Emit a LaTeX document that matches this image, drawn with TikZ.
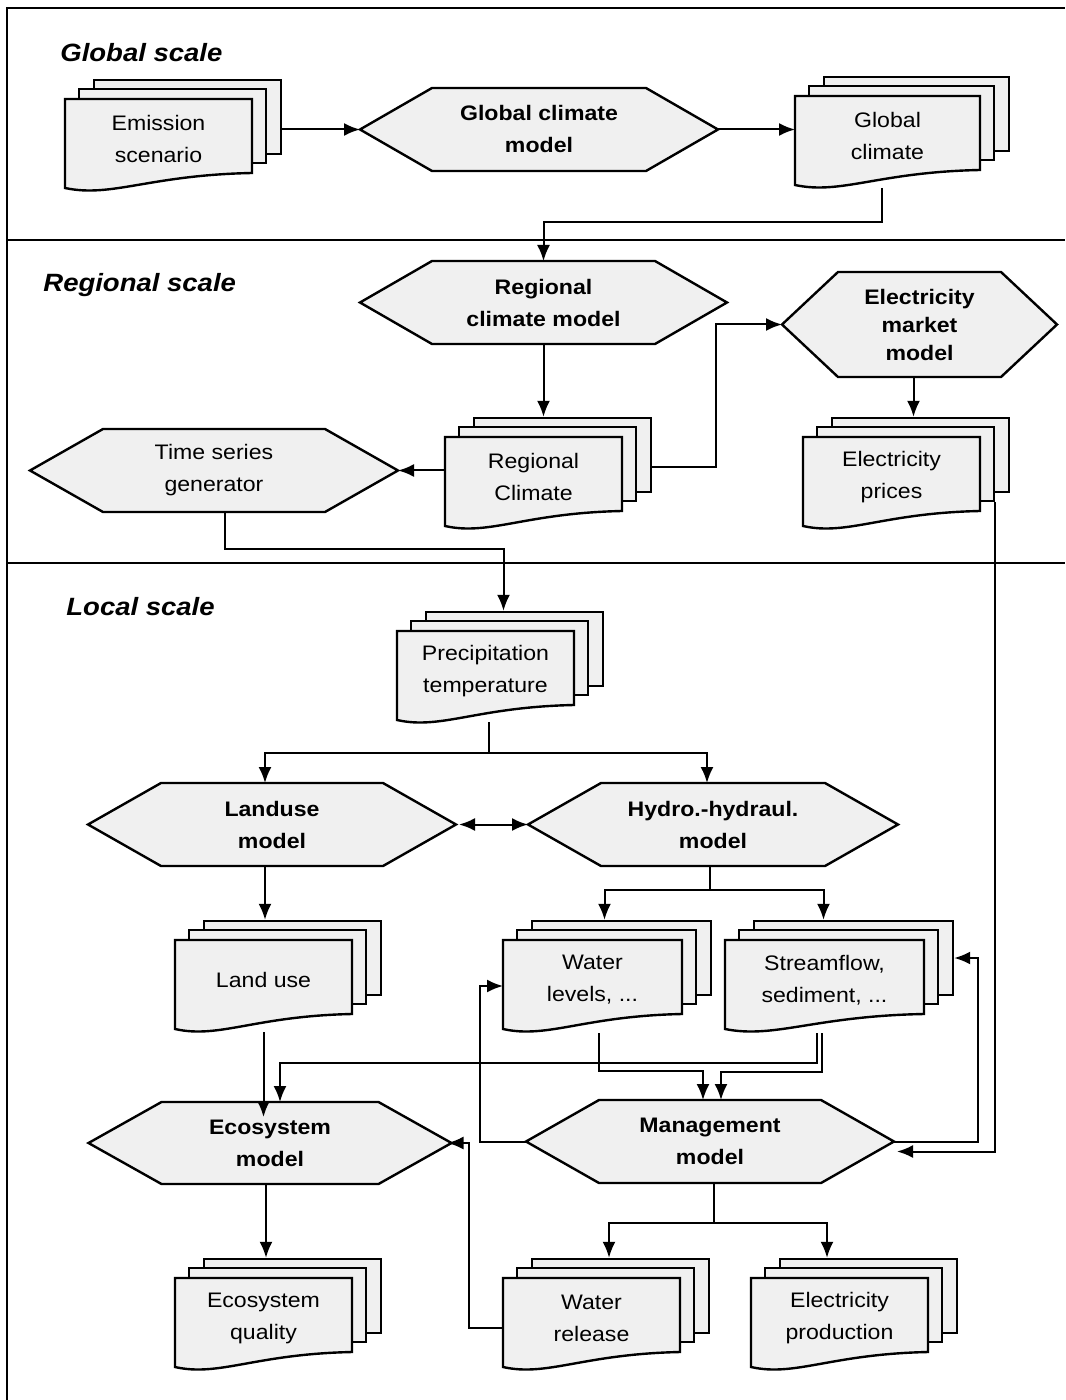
\documentclass[tikz,border=0pt]{standalone}
\usepackage{fontspec}
\setmainfont{Liberation Sans}[FakeStretch=1.1]
\usetikzlibrary{arrows.meta}
\definecolor{boxgray}{RGB}{240,240,240}

\begin{document}
\begin{tikzpicture}[x=0.5pt,y=-0.5pt]
    \tikzstyle{heading}=[anchor=west,inner sep=0pt,font=\fontsize{12.5}{14}\selectfont\bfseries\itshape]
    \tikzstyle{outline}=[draw=black,line width=1.2pt,fill=boxgray,line join=miter]
    \tikzstyle{sheet}=[outline,rectangle,inner sep=0pt,minimum height=37pt]
    \tikzstyle{doctext}=[inner sep=0pt,outer sep=0pt,align=center,minimum height=37pt,font=\fontsize{10.5}{16}\selectfont]
    \tikzstyle{hexplain}=[doctext]
    \tikzstyle{hexbold}=[doctext,font=\fontsize{10.5}{16}\selectfont\bfseries]

    % stack of documents: name, left, top, width, text
    \def\docstack#1#2#3#4#5{%
      \node[sheet,minimum width=#4*0.5pt] (#1-b) at ({#2+#4/2+29},{#3+18}) {};
      \node[sheet,minimum width=#4*0.5pt] (#1-m) at ({#2+#4/2+14},{#3+27}) {};
      \path[outline] (#2,#3) -- ++(#4,0) -- ++(0,74)
        .. controls ({#2+0.45*#4},{#3+76}) and ({#2+0.25*#4},{#3+99}) .. (#2,{#3+89}) -- cycle;
      \node[doctext,minimum width=#4*0.5pt] (#1) at ({#2+#4/2},{#3+40}) {#5};}
    % hexagon: name, x, y, width, height, inset, style, text
    \def\hexbox#1#2#3#4#5#6#7#8{%
      \path[outline] ({#2-#4/2},#3) -- ({#2-#4/2+#6},{#3-#5/2}) -- ({#2+#4/2-#6},{#3-#5/2})
        -- ({#2+#4/2},#3) -- ({#2+#4/2-#6},{#3+#5/2}) -- ({#2-#4/2+#6},{#3+#5/2}) -- cycle;
      \node[#7,minimum width=#4*0.5pt,minimum height=#5*0.5pt] (#1) at (#2,#3) {#8};}

    \useasboundingbox (0,0) rectangle (1065,1400);

    % frame and scales
    \draw[line width=1.2pt] (7,1400) -- (7,8) -- (1065,8);
    \draw[line width=1.2pt] (7,240) -- (1065,240);
    \draw[line width=1.2pt] (7,563) -- (1065,563);

    \node[heading] (global) at (60,53) {Global scale};
    \node[heading] (regional) at (43,285) {Regional scale};
    \node[heading] (local) at (66,607) {Local scale};

    \hexbox{gcm}{539}{129.5}{358}{83}{72}{hexbold}{Global climate\\model}
    \hexbox{rcm}{543.5}{302.5}{367}{83}{72}{hexbold}{Regional\\climate model}
    \hexbox{emm}{919.5}{324.5}{275}{105}{56}{hexbold}{Electricity\\[-2pt]market\\[-2pt]model}
    \hexbox{tsg}{214}{470.5}{368}{83}{73}{hexplain}{Time series\\generator}
    \hexbox{land}{272}{824.5}{368}{83}{73}{hexbold}{Landuse\\model}
    \hexbox{hydro}{713}{824.5}{370}{83}{73}{hexbold}{Hydro.-hydraul.\\model}
    \hexbox{eco}{270}{1143}{363}{82}{73}{hexbold}{Ecosystem\\model}
    \hexbox{mgmt}{710}{1141.5}{368}{83}{73}{hexbold}{Management\\model}

    \docstack{emis}{65}{99}{187}{Emission\\scenario}
    \docstack{gcl}{795}{96}{185}{Global\\climate}
    \docstack{rcl}{445}{437}{177}{Regional\\Climate}
    \docstack{price}{803}{437}{177}{Electricity\\prices}
    \docstack{precip}{397}{631}{177}{Precipitation\\temperature}
    \docstack{lu}{175}{940}{177}{Land use}
    \docstack{wlev}{503}{940}{179}{Water\\levels, ...}
    \docstack{sflow}{725}{940}{199}{Streamflow,\\sediment, ...}
    \docstack{eq}{175}{1278}{177}{Ecosystem\\quality}
    \docstack{wrel}{503}{1278}{177}{Water\\release}
    \docstack{eprod}{751}{1278}{177}{Electricity\\production}

    \tikzstyle{fwd}=[draw=black,line width=1pt,-{Latex[length=8pt,width=6.5pt]}]
    \tikzstyle{both}=[draw=black,line width=1pt,{Latex[length=8pt,width=6.5pt]}-{Latex[length=8pt,width=6.5pt]}]

    \draw[fwd] (emis-b.east |- gcm.west) -- (gcm.west);
    \draw[fwd] (gcm.east) -- (gcm.east -| gcl.west);
    \draw[fwd] ([xshift=-3pt,yshift=-7.5pt]gcl.south) -- ++(0,34) -| (rcm.north);
    \draw[fwd] (rcm.south) -- (rcm.south |- rcl-b.north);
    \draw[fwd] (rcl.west |- tsg.east) -- (tsg.east);
    \draw[fwd] ([yshift=-6pt]rcl-b.east) -- ++(64,0) |- (emm.west);
    \draw[fwd] ([xshift=-3pt]emm.south) -- ([xshift=-3pt]emm.south |- price-b.north);
    \draw[fwd] ([xshift=5.5pt]tsg.south) -- ++(0,37) -| ([xshift=-5.5pt]precip-b.north);
    \draw[fwd] ([xshift=1.75pt,yshift=-7pt]precip.south) -- ++(0,31) -| ([xshift=-3.5pt]land.north);
    \draw[fwd] ([xshift=1.75pt,yshift=-7pt]precip.south) -- ++(0,31) -| ([xshift=-3pt]hydro.north);
    \draw[both] ([xshift=1.5pt]land.east) -- (hydro.west);
    \draw[fwd] ([xshift=-3.5pt]land.south) -- ([xshift=-3.5pt]land.south |- lu-b.north);
    \draw[fwd] ([xshift=-1.5pt]hydro.south) -- ++(0,24) -| ([xshift=-8.5pt]wlev-b.north);
    \draw[fwd] ([xshift=-1.5pt]hydro.south) -- ++(0,24) -| ([xshift=-15pt]sflow-b.north);
    \draw[fwd] ([yshift=-7.5pt]lu.south) -- ([yshift=-7.5pt]lu.south |- eco.north);
    \draw[fwd] ([xshift=-3.75pt,yshift=-8pt]sflow.south) -- ++(0,30) -| ([xshift=5pt]eco.north);
    \draw[fwd] ([xshift=-1.25pt,yshift=-8pt]sflow.south) -- ++(0,39) -| ([xshift=5.5pt]mgmt.north);
    \draw[fwd] ([xshift=3.25pt,yshift=-8pt]wlev.south) -- ++(0,38) -| ([xshift=-3.5pt]mgmt.north);
    \draw[fwd] (mgmt.west) -- ++(-46,0) |- ([yshift=-3pt]wlev.west);
    \draw[fwd] (mgmt.east) -- ++(84,0) |- (sflow-b.east);
    \draw[fwd] (price-m.south east) |- ([xshift=1.5pt,yshift=-5pt]mgmt.east);
    \draw[fwd] ([xshift=2pt]mgmt.south) -- ++(0,40) -| ([xshift=-5.75pt]wrel-b.north);
    \draw[fwd] ([xshift=2pt]mgmt.south) -- ++(0,40) -| ([xshift=-20.75pt]eprod-b.north);
    \draw[fwd] ([xshift=-2pt]eco.south) -- ([xshift=-2pt]eco.south |- eq-b.north);
    \draw[fwd] ([yshift=-5pt]wrel.west) -- ++(-34.5,0) |- ([xshift=-2pt]eco.east);

\end{tikzpicture}
\end{document}
